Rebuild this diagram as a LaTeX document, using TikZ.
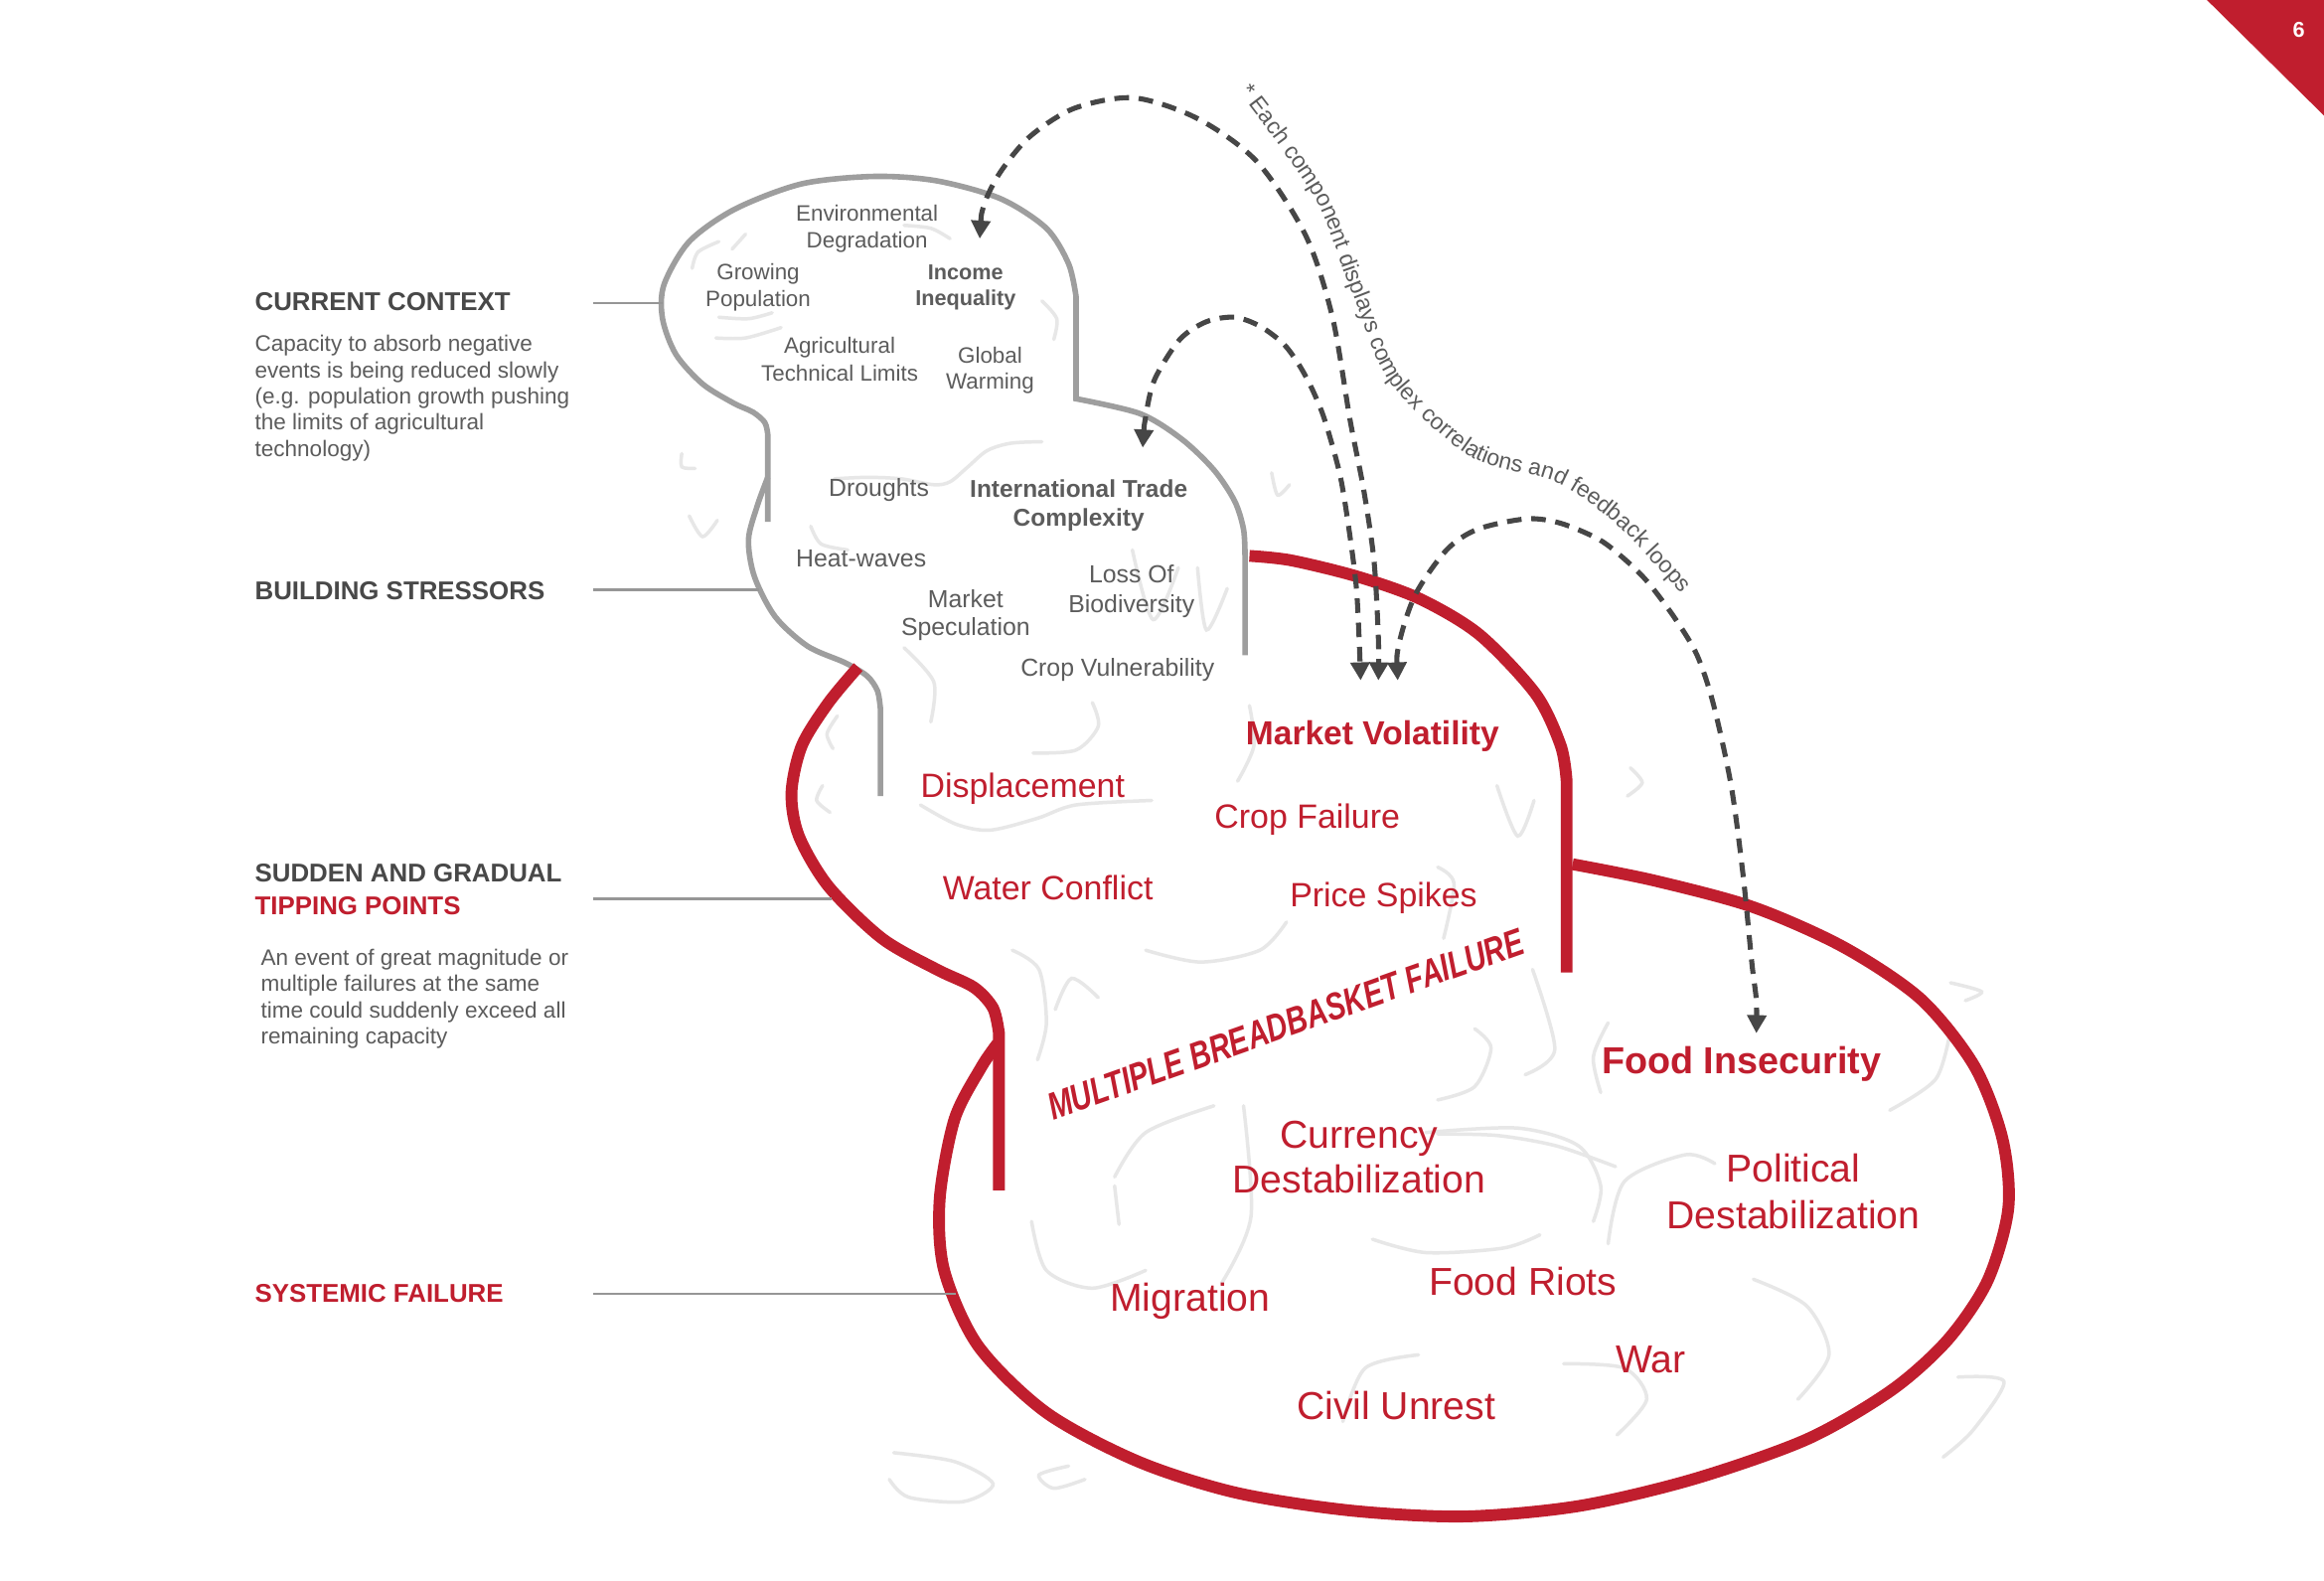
\documentclass[tikz,border=0pt]{standalone}
\usepackage{fontspec}
\setmainfont{Liberation Sans}
\usetikzlibrary{arrows.meta,decorations.text}
\definecolor{fsred}{RGB}{192,30,46}
\definecolor{headgray}{RGB}{72,72,72}
\definecolor{txtgray}{RGB}{92,92,92}
\definecolor{linegray}{RGB}{158,158,158}
\definecolor{leggray}{RGB}{150,150,150}
\definecolor{squiggray}{RGB}{231,231,231}
\definecolor{loopgray}{RGB}{70,70,70}
\newcommand{\fs}[2]{\fontsize{#1}{#2}\selectfont}

\begin{document}
\begin{tikzpicture}[x=0.015cm, y=-0.015cm,
    every node/.style={inner sep=0pt, outer sep=0pt},
    redline/.style={draw=fsred, line width=3.4pt},
    grayline/.style={draw=linegray, line width=1.6pt},
    legline/.style={draw=leggray, line width=0.8pt},
    squig/.style={draw=squiggray, line width=1pt, line cap=round},
    loopline/.style={draw=loopgray, line width=1.45pt, dash pattern=on 4.2pt off 2.8pt,
      arrows={Triangle[width=5.4pt,length=5.2pt]-Triangle[width=5.4pt,length=5.2pt]}},
    head/.style={anchor=west, font=\bfseries\fs{7.4}{9.6}, text=headgray, align=left},
    desc/.style={anchor=west, font=\fs{6.45}{7.55}, text=txtgray, align=left},
    ctx/.style={font=\fs{6.4}{7.6}, text=txtgray, align=center},
    strs/.style={font=\fs{7.1}{8.2}, text=txtgray, align=center},
    redtxt/.style={font=\fs{9.7}{11}, text=fsred, align=center},
    bigred/.style={font=\fs{11.2}{12.8}, text=fsred, align=center}]
  \path[fill=white, use as bounding box] (0,0) rectangle (1568,1066);

  % page corner
  \fill[fsred] (1489,0) -- (1568,0) -- (1568,78) -- cycle;
  \node[font=\bfseries\fs{6.2}{7}, text=white] (pgno) at (1551,20) {6};

  % background squiggles
  \draw[squig] plot[smooth] coordinates {(467,181) (471,170) (485,163)};
  \draw[squig] plot[smooth] coordinates {(494,168) (503,158)};
  \draw[squig] plot[smooth] coordinates {(485,214) (505,215) (521,211)};
  \draw[squig] plot[smooth] coordinates {(483,228) (503,228) (527,221)};
  \draw[squig] plot[smooth] coordinates {(610,152) (628,154) (641,161)};
  \draw[squig] plot[smooth] coordinates {(703,203) (713,215) (711,229)};
  \draw[squig] plot[smooth] coordinates {(460,306) (460,315) (469,316)};
  \draw[squig] plot[smooth] coordinates {(465,348) (474,362) (484,351)};
  \draw[squig] plot[smooth] coordinates {(563,323) (585,322) (608,323) (630,327) (641,325) (653,315) (666,304) (682,299) (703,298)};
  \draw[squig] plot[smooth] coordinates {(547,355) (554,367) (572,371)};
  \draw[squig] plot[smooth] coordinates {(764,371) (778,418) (795,383)};
  \draw[squig] plot[smooth] coordinates {(808,383) (814,425) (828,397)};
  \draw[squig] plot[smooth] coordinates {(858,319) (862,334) (870,327)};
  \draw[squig] plot[smooth] coordinates {(610,437) (630,460) (628,487)};
  \draw[squig] plot[smooth] coordinates {(565,483) (558,495) (562,505)};
  \draw[squig] plot[smooth] coordinates {(555,530) (551,540) (560,548)};
  \draw[squig] plot[smooth] coordinates {(621,543) (645,556) (668,560) (700,552) (726,543) (777,540)};
  \draw[squig] plot[smooth] coordinates {(697,508) (726,506) (741,490) (737,474)};
  \draw[squig] plot[smooth] coordinates {(843,476) (846,503) (835,527)};
  \draw[squig] plot[smooth] coordinates {(1010,530) (1024,564) (1035,540)};
  \draw[squig] plot[smooth] coordinates {(1100,518) (1108,528) (1098,537)};
  \draw[squig] plot[smooth] coordinates {(773,641) (810,649) (850,641) (868,622)};
  \draw[squig] plot[smooth] coordinates {(683,641) (701,654) (706,690) (700,715)};
  \draw[squig] plot[smooth] coordinates {(712,681) (723,660) (741,673)};
  \draw[squig] plot[smooth] coordinates {(970,585) (981,596) (974,633)};
  \draw[squig] plot[smooth] coordinates {(995,694) (1006,707) (995,733) (970,742)};
  \draw[squig] plot[smooth] coordinates {(970,765) (1010,766) (1050,773) (1090,787)};
  \draw[squig] plot[smooth] coordinates {(752,800) (755,826)};
  \draw[squig] plot[smooth] coordinates {(752,794) (773,764) (819,746)};
  \draw[squig] plot[smooth] coordinates {(696,824) (706,857) (737,869) (773,857)};
  \draw[squig] plot[smooth] coordinates {(839,746) (844,821) (824,866)};
  \draw[squig] plot[smooth] coordinates {(962,764) (1024,761) (1065,773) (1080,800) (1075,824)};
  \draw[squig] plot[smooth] coordinates {(926,836) (962,845) (1014,842) (1039,833)};
  \draw[squig] plot[smooth] coordinates {(1085,839) (1096,797) (1137,779) (1157,785)};
  \draw[squig] plot[smooth] coordinates {(1183,863) (1219,881) (1234,914) (1213,944)};
  \draw[squig] plot[smooth] coordinates {(1055,920) (1096,923) (1111,944) (1091,968)};
  \draw[squig] plot[smooth] coordinates {(906,959) (921,923) (957,914)};
  \draw[squig] plot[smooth] coordinates {(1321,929) (1352,932) (1331,965) (1311,983)};
  \draw[squig] plot[smooth] coordinates {(1316,663) (1337,669) (1326,675)};
  \draw[squig] plot[smooth] coordinates {(1316,695) (1306,728) (1275,749)};
  \draw[squig] plot[smooth] coordinates {(603,980) (644,986) (670,1001) (650,1013) (613,1010) (600,998)};
  \draw[squig] plot[smooth] coordinates {(721,989) (701,995) (711,1004) (732,998)};
  \draw[squig] plot[smooth] coordinates {(1085,690) (1075,713) (1080,737)};
  \draw[squig] plot[smooth] coordinates {(1034,654) (1049,708) (1029,725)};

  % outlines
  \draw[grayline] (518,352) -- plot[smooth] coordinates {(518,293) (516,285) (508,278) (495,272)
    (474,259) (456,239) (447,215) (448,192) (465,163) (496,141) (541,124) (590,119) (632,122)
    (675,134) (706,154) (721,178) (726,200)} -- (726,269)
    -- plot[smooth] coordinates {(726,269) (769,279) (797,296) (819,317) (833,338) (839,357) (840,375)}
    -- (840,442);
  \draw[grayline] plot[smooth] coordinates {(518,322) (511,341) (505,364) (509,389) (523,416)
    (545,436) (570,447) (585,456) (592,466) (594,478)} -- (594,537);
  \draw[redline] plot[smooth] coordinates {(579,450) (559,474) (541,503) (534,535) (539,564)
    (559,598) (595,633) (632,654) (657,666) (670,680) (674,697)} -- (674,803);
  \draw[redline] plot[smooth] coordinates {(843,375) (871,378) (916,389) (958,404) (998,428)
    (1036,468) (1053,503) (1057,527)} -- (1057,656);
  \draw[redline] plot[smooth] coordinates {(1061,583) (1116,594) (1183,612) (1244,639) (1296,674)
    (1332,719) (1351,768) (1355,815) (1341,864) (1314,904) (1276,938) (1219,971) (1142,998)
    (1065,1016) (988,1023) (911,1019) (834,1007) (768,986) (706,953) (660,908) (637,857)
    (634,809) (644,755) (662,720) (673,704)};

  % left column
  \node[head] (ctx-h) at (172,203.4) {CURRENT CONTEXT};
  \node[desc] (ctx-d) at (172,268.6) {Capacity to absorb negative\\events is being reduced slowly\\(e.g. population growth pushing\\the limits of agricultural\\technology)};
  \node[head] (bs-h) at (172,398.9) {BUILDING STRESSORS};
  \node[head] (tp-h) at (172,600) {SUDDEN AND GRADUAL\\\textcolor{fsred}{TIPPING POINTS}};
  \node[desc] (tp-d) at (176,673.7) {An event of great magnitude or\\multiple failures at the same\\time could suddenly exceed all\\remaining capacity};
  \node[head, text=fsred] (sf-h) at (172,872.6) {SYSTEMIC FAILURE};
  \coordinate (ctx-a) at (400,204.5); \coordinate (ctx-b) at (447,204.5);
  \coordinate (bs-a) at (400,397.6);  \coordinate (bs-b) at (512,397.6);
  \coordinate (tp-a) at (400,606.5);  \coordinate (tp-b) at (561,606.5);
  \coordinate (sf-a) at (400,872.8);  \coordinate (sf-b) at (645,872.8);
  \foreach \a/\b in {ctx-a/ctx-b, bs-a/bs-b, tp-a/tp-b, sf-a/sf-b}
    \draw[legline] (\a) -- (\b);

  % current context
  \node[ctx] (env) at (585,154.3) {Environmental\\Degradation};
  \node[ctx] (grow) at (511.5,194) {Growing\\Population};
  \node[ctx, font=\bfseries\fs{6.2}{7.6}] (inc) at (651.5,194) {Income\\Inequality};
  \node[ctx, font=\fs{6.4}{7.9}] (agri) at (566.5,242.3) {Agricultural\\Technical Limits};
  \node[ctx] (glob) at (668,250) {Global\\Warming};
  % building stressors
  \node[strs] (drou) at (593,330.5) {Droughts};
  \node[strs, font=\bfseries\fs{7}{8.5}] (itc) at (727.8,341) {International Trade\\Complexity};
  \node[strs] (heat) at (581,376.5) {Heat-waves};
  \node[strs, font=\fs{7.1}{8.5}] (loss) at (763.4,398.7) {Loss Of\\Biodiversity};
  \node[strs] (spec) at (651.5,415) {Market\\Speculation};
  \node[strs] (cropv) at (754,452) {Crop Vulnerability};
  % tipping points
  \node[redtxt, font=\bfseries\fs{9.6}{11}] (mvol) at (926,496.5) {Market Volatility};
  \node[redtxt] (displ) at (690,532.3) {Displacement};
  \node[redtxt] (cropf) at (882,553) {Crop Failure};
  \node[redtxt] (water) at (707,599) {Water Conflict};
  \node[redtxt] (price) at (933.5,605.5) {Price Spikes};
  \node[text=fsred, font=\bfseries\itshape\fs{11}{12}, rotate=19.5] (mbf) at (867.5,691)
    {\scalebox{0.755}[1]{MULTIPLE BREADBASKET FAILURE}};
  % systemic failure
  \node[bigred, font=\bfseries\fs{10.8}{12}] (fins) at (1175,718) {Food Insecurity};
  \node[bigred] (curr) at (917,780.7) {Currency\\Destabilization};
  \node[bigred, font=\fs{11.2}{13.4}] (pol) at (1210,804) {Political\\Destabilization};
  \node[bigred] (riot) at (1027.5,864.6) {Food Riots};
  \node[bigred] (migr) at (803,878) {Migration};
  \node[bigred] (war) at (1113.6,917) {War};
  \node[bigred] (civ) at (942,948.4) {Civil Unrest};

  % feedback loops
  \coordinate (inc-in) at (661,161);
  \coordinate (itc-in) at (771,302);
  \coordinate (mv-b) at (918,459);
  \coordinate (mv-a) at (930,459);
  \coordinate (mv-c) at (943,459);
  \coordinate (fi-in) at (1185,697);
  \draw[loopline] plot[smooth] coordinates {(inc-in) (664,138) (675,116) (695,92) (725,73) (765,66)
    (808,80) (848,109) (881,159) (899,214) (911,284) (920,330) (927,378) (930,431) (mv-a)};
  \draw[loopline] plot[smooth] coordinates {(itc-in) (773,281) (779,256) (796,229) (814,217) (833,214)
    (850,220) (866,232) (877,247) (886,264) (894,284) (904,320) (910,356) (915,395) (917,431) (mv-b)};
  \draw[loopline] plot[smooth] coordinates {(mv-c) (944,434) (955,401) (976,371) (997,357) (1030,350)
    (1053,353) (1079,364) (1097,378) (1112,393) (1130,417) (1145,442) (1156,475) (1168,530)
    (1176,590) (1182,650) (1185,675) (fi-in)};
  \path[decorate, decoration={text along path,
      text={|\fs{6.6}{8}\color{txtgray}|* Each component displays complex correlations and feedback loops}}]
    plot[smooth] coordinates {(836,62) (855,87) (889,137) (913,199) (938,258) (992,308)
    (1049,325) (1089,352) (1127,392) (1150,420) (1165,440)};
\end{tikzpicture}
\end{document}
